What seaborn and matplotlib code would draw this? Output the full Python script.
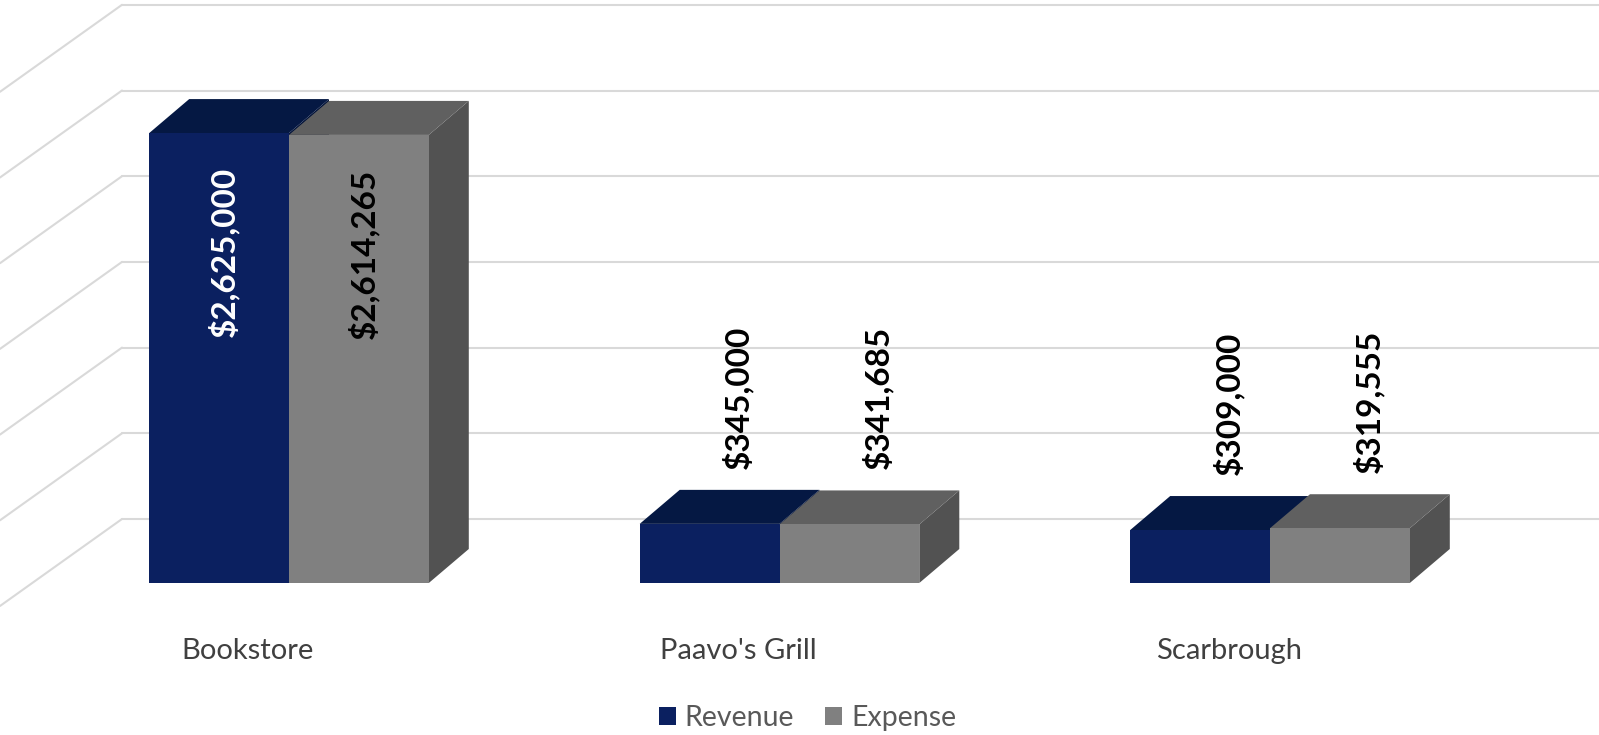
import matplotlib
matplotlib.use("Agg")
import matplotlib.pyplot as plt
import seaborn as sns
import pandas as pd
from matplotlib.patches import Polygon

categories = ["Bookstore", "Paavo's Grill", "Scarbrough"]
series = ["Revenue", "Expense"]
revenue = [2625000, 345000, 309000]
expense = [2614265, 341685, 319555]
grid_values = [0, 500000, 1000000, 1500000, 2000000, 2500000, 3000000]

front_colors = {"Revenue": "#0b2060", "Expense": "#808080"}
top_colors = {"Revenue": "#051843", "Expense": "#606060"}
side_colors = {"Revenue": "#04143a", "Expense": "#525252"}

df = pd.DataFrame({
    "category": categories * 2,
    "series": ["Revenue"] * 3 + ["Expense"] * 3,
    "value": revenue + expense,
})

sns.set_theme(style="white")
plt.rcParams["font.family"] = ["Lato", "DejaVu Sans"]

fig = plt.figure(figsize=(15.99, 7.35), dpi=100)
ax = fig.add_axes([0, 0, 1, 1])

sns.barplot(data=df, x="category", y="value", hue="series", palette=front_colors,
            width=0.57, saturation=1, errorbar=None, linewidth=0, ax=ax)

# pixel -> data conversion (fake 3D look needs fixed pixel offsets)
px_x = 1 / 490.5
px_y = 1e6 / 171.4
x_left = -289 * px_x
x_right = (1599 - 289) * px_x
ax.set_xlim(x_left, x_right)
ax.set_ylim(-(735 - 583) * px_y, 583 * px_y)
ax.axis("off")

# back wall gridlines + side wall diagonals
for v in grid_values:
    yb = v + 64 * px_y
    ax.plot([x_left + 122 * px_x, x_right], [yb, yb], color="#d9d9d9", lw=1.5, zorder=0.5)
    ax.plot([x_left, x_left + 122 * px_x], [yb - 87 * px_y, yb], color="#d9d9d9", lw=1.5, zorder=0.5)

ddx = 40 * px_x
ddy = 34 * px_y
for i, cont in enumerate(ax.containers):
    name = series[i]
    for j, bar in enumerate(cont):
        x0 = bar.get_x()
        w = bar.get_width()
        h = bar.get_height()
        z = 2 + i * 0.2
        bar.set_zorder(z + 0.1)
        side = Polygon([(x0 + w, 0), (x0 + w + ddx, ddy), (x0 + w + ddx, h + ddy), (x0 + w, h)],
                       closed=True, facecolor=side_colors[name], edgecolor="none", zorder=z)
        top = Polygon([(x0, h), (x0 + ddx, h + ddy), (x0 + w + ddx, h + ddy), (x0 + w, h)],
                      closed=True, facecolor=top_colors[name], edgecolor="none", zorder=z)
        ax.add_patch(side)
        ax.add_patch(top)

        cx = x0 + w / 2
        label = f"${h:,.0f}"
        if h > 1e6:
            color = "white" if name == "Revenue" else "black"
            ax.text(cx + 4 * px_x, h - 34 * px_y, label, rotation=90, ha="center", va="top",
                    fontsize=24, fontweight="bold", color=color, zorder=5)
        else:
            ax.text(cx + 28 * px_x, h + 55 * px_y, label, rotation=90, ha="center", va="bottom",
                    fontsize=24, fontweight="bold", color="black", zorder=5)

for j, cat in enumerate(categories):
    ax.text(j - 41 * px_x, -(651 - 583) * px_y, cat, ha="center", va="center",
            fontsize=21, color="#404040")

sns.move_legend(ax, "lower center", bbox_to_anchor=(0.505, -0.03), ncol=2, frameon=False,
                title=None, fontsize=20.5, handlelength=0.6, handleheight=0.6,
                columnspacing=1.1, handletextpad=0.3)
for t in ax.get_legend().get_texts():
    t.set_color("#595959")

fig.savefig("out.png", dpi=100)
